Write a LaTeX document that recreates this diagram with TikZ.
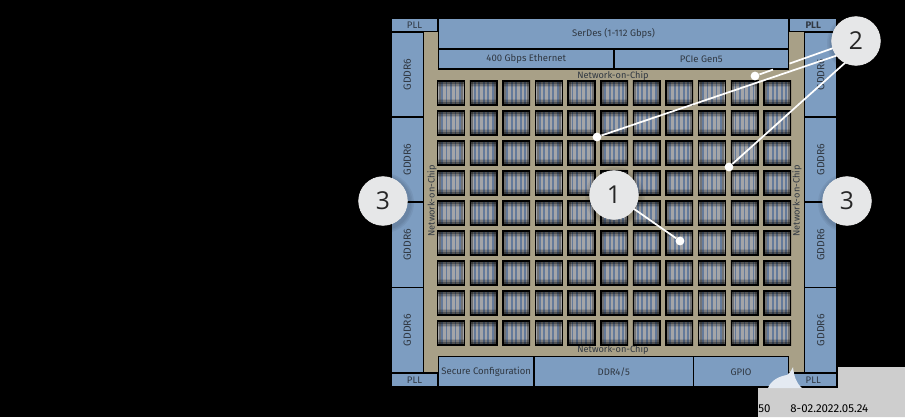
\documentclass[tikz,border=0pt]{standalone}
\usepackage{fontspec}
\setmainfont{Fira Sans}
\newfontfamily\numfont{Open Sans}
\definecolor{blk}{RGB}{125,157,193}
\definecolor{tan}{RGB}{168,160,135}
\definecolor{txt}{RGB}{48,56,66}
\definecolor{wm}{RGB}{206,206,206}
\definecolor{blob}{RGB}{228,234,242}
\definecolor{disc}{RGB}{230,231,232}
\definecolor{stra}{RGB}{100,122,154}
\definecolor{strb}{RGB}{164,165,168}
\tikzset{
  x=0.75pt,y=-0.75pt,
  block/.style={fill=blk,draw=black,line width=0.95pt,inner sep=0pt,font=\fontsize{7.15pt}{8pt}\selectfont,text=txt},
  noc/.style={inner sep=0pt,font=\fontsize{6.9pt}{8pt}\selectfont,text=txt},
  disc/.style={circle,fill=disc,draw=white!92!black,line width=0.5pt,minimum size=36.5pt,inner sep=0pt,font=\numfont\fontsize{18.5pt}{20pt}\selectfont,text=black!85},
  leader/.style={draw=white,line width=1.3pt},
  dotend/.style={circle,fill=white,minimum size=6.6pt,inner sep=0pt},
  pics/chip/.style={code={
    \fill[tan!70!black,opacity=.4] (-1,-1) rectangle (27.7,25);
    \fill[strb] (0,0) rectangle (26.7,24);
    \foreach \k in {0,...,4}{
      \fill[stra] ({3.4+4.5*\k},1) rectangle ({5.2+4.5*\k},23);
    }
    \fill[black,opacity=.5] (0,1) rectangle (26.7,2.8);
    \fill[black,opacity=.28] (0,2.8) rectangle (26.7,4.6);
    \fill[black,opacity=.1] (0,4.6) rectangle (26.7,6.4);
    \fill[black,opacity=.5] (0,21.2) rectangle (26.7,23);
    \fill[black,opacity=.28] (0,19.4) rectangle (26.7,21.2);
    \fill[black,opacity=.1] (0,17.6) rectangle (26.7,19.4);
    \fill[black,opacity=.3] (1,0) rectangle (3,24);
    \fill[black,opacity=.3] (23.7,0) rectangle (25.7,24);
    \draw[black,line width=1.05pt] (0,0) rectangle (26.7,24);
  }}
}
\newcommand{\blockat}[6]{% name, x1, y1, x2, y2, text
  \node[block,minimum width={(#4-#2)*0.75pt},minimum height={(#5-#3)*0.75pt},anchor=center] (#1) at ({(#2+#4)/2},{(#3+#5)/2}) {#6};}
\newcommand{\vblockat}[5]{% name, x1, y1, x2, y2 (vertical GDDR6)
  \node[block,minimum width={(#4-#2)*0.75pt},minimum height={(#5-#3)*0.75pt},anchor=center,font=\fontsize{7.8pt}{8pt}\selectfont] (#1) at ({(#2+#4)/2},{(#3+#5)/2}) {\rotatebox{90}{GDDR6}};}
\begin{document}
\begin{tikzpicture}
\useasboundingbox (0,0) rectangle (905,417);
\fill[black] (0,0) rectangle (905,417);
% die fabric
\fill[tan] (424,32) rectangle (804.5,373);
% blocks
\blockat{pllTL}{391}{18}{438}{31.5}{PLL}
\blockat{pllTR}{789.5}{18}{837}{31.5}{\textbf{PLL}}
\blockat{pllBL}{391}{373}{438}{387}{PLL}
\blockat{pllBR}{789.5}{373}{837}{387}{PLL}
\blockat{serdes}{438.5}{18}{788.5}{49}{SerDes (1-112 Gbps)}
\blockat{eth}{438.5}{49.5}{614}{69}{400 Gbps Ethernet}
\blockat{pcie}{614}{49.5}{788.5}{69}{PCIe Gen5}
\blockat{sec}{438.5}{356.5}{534}{387}{Secure Configuration}
\blockat{ddr}{534}{356.5}{693.5}{387}{DDR4/5}
\blockat{gpio}{693.5}{356.5}{788.5}{387}{GPIO}
\vblockat{gl1}{391}{32}{423.5}{117}
\vblockat{gl2}{391}{117}{423.5}{202}
\vblockat{gl3}{391}{202}{423.5}{287.5}
\vblockat{gl4}{391}{287.5}{423.5}{373}
\vblockat{gr1}{804.5}{32}{837}{117}
\vblockat{gr2}{804.5}{117}{837}{202}
\vblockat{gr3}{804.5}{202}{837}{287.5}
\vblockat{gr4}{804.5}{287.5}{837}{373}
% NoC labels
\node[noc] (nocT) at (613,76) {Network-on-Chip};
\node[noc] (nocB) at (613,350) {Network-on-Chip};
\node[noc,rotate=90] (nocL) at (432,201) {Network-on-Chip};
\node[noc,rotate=90] (nocR) at (797,201) {Network-on-Chip};
% chips
\foreach \c in {0,...,10}{
  \foreach \r in {0,...,8}{
    \pic at ({437.7+32.62*\c},{81+30*\r}) {chip};
  }
}
% watermark patch
\fill[wm] (758,388) -- (838,388) -- (838,367) -- (905,367) -- (905,417) -- (758,417) -- cycle;
\fill[blob] (768,388) .. controls (771,380) and (780,376) .. (787,375) .. controls (791,372) and (792,369) .. (793,367) .. controls (794,376) and (796,383) .. (802,388) -- cycle;
\node[inner sep=0pt,anchor=west,font=\fontsize{8.6pt}{9pt}\selectfont,text=black] (stamp) at (758,409) {50\hspace{15pt}8-02.2022.05.24};
% soft shadows
\foreach \cx/\cy in {614/195,856/41,383/201,847/201}{
  \foreach \rr in {30,28.5,27}{
    \fill[black,opacity=.05] (\cx+1,\cy+2) circle[radius=\rr*0.75pt];
  }
}
% callouts
\node[dotend] (e1) at (680,241) {};
\node[dotend] (e2a) at (755,76) {};
\node[dotend] (e2b) at (597,137) {};
\node[dotend] (e2c) at (729,167) {};
\coordinate (gapA) at (773,69.6);
\coordinate (gapB) at (789.5,63.6);
\coordinate (s2a) at (856,40);
\coordinate (s2b) at (856,49);
\coordinate (s2c) at (856,53);
\draw[leader] (e2a) -- (gapA);
\draw[leader] (gapB) -- (s2a);
\draw[leader] (e2b) -- (s2b);
\draw[leader] (e2c) -- (s2c);
\node[disc] (n1) at (614,195) {1};
\node[disc] (n2) at (856,41) {2};
\node[disc] (n3l) at (383,201) {3};
\node[disc] (n3r) at (847,201) {3};
\draw[leader] (n1) -- (e1);
\end{tikzpicture}
\end{document}
